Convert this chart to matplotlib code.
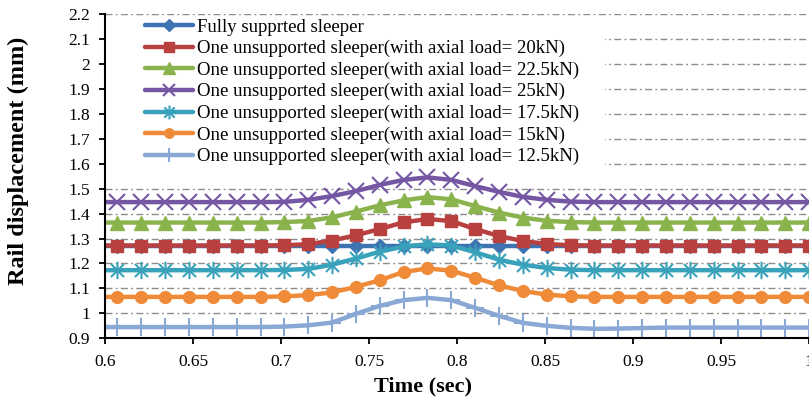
import matplotlib
matplotlib.use("Agg")
import matplotlib.pyplot as plt
from matplotlib.path import Path
from matplotlib.patches import Rectangle
from matplotlib.ticker import MultipleLocator, FuncFormatter

plt.rcParams['font.family'] = ['Liberation Serif', 'DejaVu Serif']

# Time samples (s)
time_s = [0.5935, 0.6071, 0.6206, 0.6342, 0.6477, 0.6613, 0.6748, 0.6884,
          0.7019, 0.7155, 0.7290, 0.7426, 0.7561, 0.7697, 0.7832, 0.7968,
          0.8103, 0.8239, 0.8374, 0.8510, 0.8645, 0.8781, 0.8916, 0.9052,
          0.9187, 0.9323, 0.9458, 0.9594, 0.9729, 0.9865, 1.0000]

# Rail displacement (mm)
fully_supported = [1.268] * 31
axial_20 = [1.272, 1.272, 1.272, 1.272, 1.272, 1.272, 1.272, 1.272, 1.273,
            1.277, 1.292, 1.313, 1.338, 1.365, 1.378, 1.370, 1.338, 1.310,
            1.290, 1.278, 1.273, 1.272, 1.272, 1.272, 1.272, 1.272, 1.272,
            1.272, 1.272, 1.272, 1.272]
axial_22_5 = [1.364, 1.364, 1.364, 1.364, 1.364, 1.364, 1.364, 1.364, 1.366,
              1.370, 1.385, 1.408, 1.433, 1.453, 1.466, 1.457, 1.430, 1.404,
              1.384, 1.371, 1.366, 1.364, 1.364, 1.364, 1.364, 1.364, 1.364,
              1.364, 1.364, 1.364, 1.364]
axial_25 = [1.446, 1.446, 1.446, 1.446, 1.446, 1.446, 1.446, 1.446, 1.447,
            1.455, 1.470, 1.490, 1.515, 1.535, 1.545, 1.535, 1.510, 1.487,
            1.467, 1.455, 1.448, 1.446, 1.446, 1.446, 1.446, 1.446, 1.446,
            1.446, 1.446, 1.446, 1.446]
axial_17_5 = [1.173, 1.173, 1.173, 1.173, 1.173, 1.173, 1.173, 1.173, 1.174,
              1.178, 1.195, 1.220, 1.247, 1.268, 1.277, 1.272, 1.245, 1.215,
              1.195, 1.182, 1.175, 1.173, 1.173, 1.173, 1.173, 1.173, 1.173,
              1.173, 1.173, 1.173, 1.173]
axial_15 = [1.066, 1.066, 1.066, 1.066, 1.066, 1.066, 1.066, 1.066, 1.068,
            1.073, 1.084, 1.106, 1.133, 1.166, 1.180, 1.171, 1.143, 1.112,
            1.090, 1.075, 1.068, 1.066, 1.066, 1.066, 1.066, 1.066, 1.066,
            1.066, 1.066, 1.066, 1.066]
axial_12_5 = [0.945, 0.945, 0.945, 0.945, 0.945, 0.945, 0.945, 0.945, 0.947,
              0.952, 0.963, 0.998, 1.030, 1.053, 1.062, 1.053, 1.022, 0.990,
              0.962, 0.950, 0.942, 0.938, 0.939, 0.941, 0.943, 0.943, 0.943,
              0.943, 0.943, 0.943, 0.943]

labels = ["Fully supprted sleeper",
          "One unsupported sleeper(with axial load= 20kN)",
          "One unsupported sleeper(with axial load= 22.5kN)",
          "One unsupported sleeper(with axial load= 25kN)",
          "One unsupported sleeper(with axial load= 17.5kN)",
          "One unsupported sleeper(with axial load= 15kN)",
          "One unsupported sleeper(with axial load= 12.5kN)"]

# asterisk marker: vertical stroke plus an X
asterisk = Path([(0, -1), (0, 1), (-0.75, -0.75), (0.75, 0.75),
                 (-0.75, 0.75), (0.75, -0.75)],
                [Path.MOVETO, Path.LINETO, Path.MOVETO, Path.LINETO,
                 Path.MOVETO, Path.LINETO])

series = [
    (fully_supported, '#3F72B0', 'D', 7.5, 1.0),
    (axial_20, '#B8403E', 's', 8.5, 1.0),
    (axial_22_5, '#8AB34E', '^', 10.0, 1.0),
    (axial_25, '#7456A3', 'x', 11.5, 1.5),
    (axial_17_5, '#37A2BA', asterisk, 12.5, 1.5),
    (axial_15, '#EE8A38', 'o', 8.5, 1.0),
    (axial_12_5, '#8AA8D6', '+', 13.0, 1.5),
]

fig = plt.figure(figsize=(8.09, 4.01), dpi=100)
ax = fig.add_axes([105 / 809, 1 - 338.3 / 401, 704 / 809, 324.3 / 401])

handles = []
for (vals, color, marker, ms, mew), lab in zip(series, labels):
    h, = ax.plot(time_s, vals, color=color, lw=3.2, marker=marker,
                 markersize=ms, markerfacecolor=color, markeredgecolor=color,
                 markeredgewidth=mew, solid_joinstyle='round',
                 solid_capstyle='round', label=lab, zorder=3, clip_on=True)
    handles.append(h)

ax.set_xlim(0.6, 1.0)
ax.set_ylim(0.9, 2.2)
ax.xaxis.set_major_locator(MultipleLocator(0.05))
ax.yaxis.set_major_locator(MultipleLocator(0.1))
fmt = FuncFormatter(lambda v, p: '%g' % round(v, 3))
ax.xaxis.set_major_formatter(fmt)
ax.yaxis.set_major_formatter(fmt)

ax.grid(axis='y', color='#8c8c8c', lw=1.0, linestyle=(0, (5, 2.4, 1.3, 2.4)),
        zorder=1)
ax.set_axisbelow(True)

for side in ('top', 'right'):
    ax.spines[side].set_visible(False)
for side in ('left', 'bottom'):
    ax.spines[side].set_linewidth(1.5)
    ax.spines[side].set_color('black')
    ax.spines[side].set_zorder(4)

ax.tick_params(axis='both', direction='out', length=4, width=1.3,
               labelsize=12.5, colors='black')
ax.tick_params(axis='x', pad=7)
ax.tick_params(axis='y', pad=7)

ax.set_xlabel('Time (sec)', fontsize=16, fontweight='bold')
ax.xaxis.set_label_coords((423 - 105) / 704, (338.3 - 376) / 324.3)
ax.set_ylabel('Rail displacement (mm)', fontsize=17.5, fontweight='bold')
ax.yaxis.set_label_coords((29 - 105) / 704, (338.3 - 161) / 324.3)

# white panel behind the legend
ax.add_patch(Rectangle((0.0, (338.3 - 171) / 324.3), (605 - 105) / 704,
                       (171 - 16) / 324.3, transform=ax.transAxes,
                       facecolor='white', edgecolor='none', zorder=2))

leg = ax.legend(handles=handles, loc='upper left', frameon=False,
                bbox_to_anchor=((145 - 105) / 704, (338.3 - 18.5) / 324.3),
                fontsize=13.5, handlelength=2.56, handletextpad=0.2,
                labelspacing=0.23, borderpad=0.0, borderaxespad=0.0,
                markerscale=0.8)
leg.set_zorder(5)

fig.savefig('out.png', dpi=100)
